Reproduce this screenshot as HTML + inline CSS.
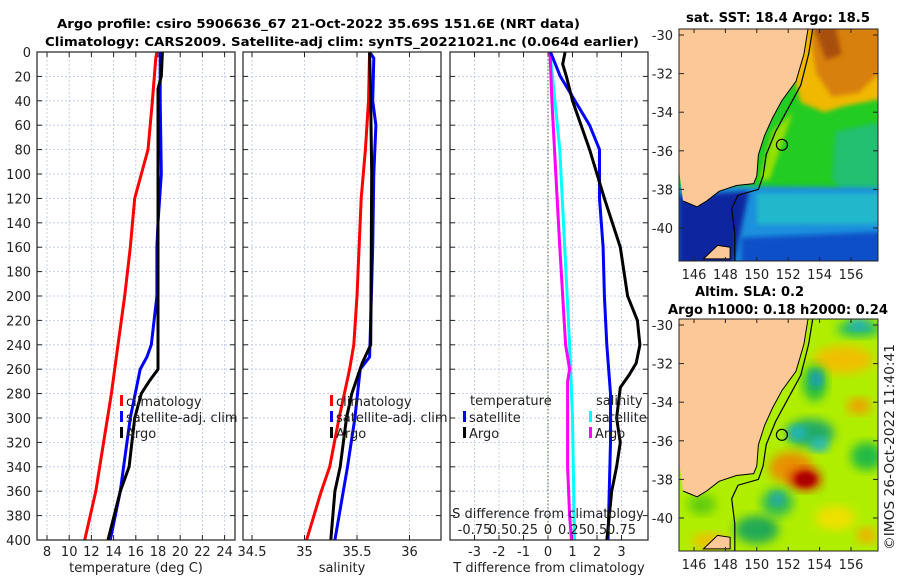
<!DOCTYPE html>
<html><head><meta charset="utf-8"><style>
body{margin:0;background:#fff;}
svg{display:block;font-family:"DejaVu Sans","Liberation Sans",sans-serif;}
.t{font-size:13px;fill:#222;}
.b{font-size:12px;font-weight:bold;fill:#000;}
</style></head><body>
<svg id="c" width="900" height="580" viewBox="0 0 900 580">
<defs>
<filter id="bl" x="-20%" y="-20%" width="140%" height="140%"><feGaussianBlur stdDeviation="5"/></filter>
<filter id="bl2" x="-20%" y="-20%" width="140%" height="140%"><feGaussianBlur stdDeviation="2.5"/></filter>
<clipPath id="m1"><rect x="679" y="29" width="199" height="232"/></clipPath>
<clipPath id="m2"><rect x="679" y="319" width="199" height="232"/></clipPath>
</defs>
<text class="b" x="57" y="28" textLength="523" lengthAdjust="spacingAndGlyphs">Argo profile: csiro 5906636_67 21-Oct-2022 35.69S 151.6E (NRT data)</text>
<text class="b" x="45" y="46" textLength="594" lengthAdjust="spacingAndGlyphs">Climatology: CARS2009. Satellite-adj clim: synTS_20221021.nc (0.064d earlier)</text>
<g id="plots"></g>
<g id="maps"></g>
<text class="t" x="894" y="550" textLength="206" lengthAdjust="spacingAndGlyphs" transform="rotate(-90 894 550)">©IMOS 26-Oct-2022 11:40:41</text>
</svg>
<script>
// ---- data (depth in m) ----
const depthTicks=[0,20,40,60,80,100,120,140,160,180,200,220,240,260,280,300,320,340,360,380,400];
const tempTicks=[8,10,12,14,16,18,20,22,24];
const salTicks=[34.5,35,35.5,36];
const tdTicks=[-3,-2,-1,0,1,2,3];
const sdTickLabels=["-0.75","0.5","0.25","0","0.25","0.5","0.75"];
const sdTickValues=[-0.75,-0.5,-0.25,0,0.25,0.5,0.75];

const tClimD=[0,5,40,80,120,160,200,240,280,320,360,400];
const tClimV=[17.9,17.8,17.5,17.1,15.9,15.5,15.0,14.4,13.8,13.1,12.4,11.4];
const tSatD=[0,40,100,140,160,200,240,250,260,300,340,360,400];
const tSatV=[18.2,18.2,18.3,18.0,17.9,17.9,17.4,17.0,16.4,15.5,14.9,14.6,13.7];
const tArgoD=[0,20,30,40,100,200,260,265,270,280,300,340,360,400];
const tArgoV=[18.4,18.3,18.0,18.0,18.0,18.0,18.0,17.6,17.2,16.5,15.9,15.4,14.6,13.5];

const sClimD=[0,40,80,120,160,200,240,260,280,300,340,360,400];
const sClimV=[35.62,35.61,35.58,35.54,35.52,35.50,35.47,35.43,35.38,35.33,35.24,35.16,35.02];
const sSatD=[0,5,40,60,100,160,220,250,260,300,340,380,400];
const sSatV=[35.62,35.66,35.65,35.68,35.66,35.65,35.63,35.62,35.53,35.48,35.41,35.33,35.29];
const sArgoD=[0,40,100,240,255,280,300,340,360,400];
const sArgoV=[35.62,35.63,35.64,35.63,35.55,35.45,35.40,35.34,35.29,35.25];

const dTSatD=[0,20,40,60,80,120,160,200,240,280,320,400];
const dTSatV=[0.1,0.5,1.1,1.7,2.1,2.1,2.25,2.3,2.4,2.55,2.55,2.45];
const dTArgoD=[0,10,20,40,80,120,160,200,220,240,255,265,275,300,320,340,360,380,400];
const dTArgoV=[0.7,0.6,0.75,1.0,1.7,2.3,2.95,3.25,3.65,3.75,3.6,3.3,2.95,2.8,2.95,2.8,2.6,2.5,2.4];
const dSSatD=[0,40,80,160,240,300,400];
const dSSatV=[0.02,0.07,0.12,0.17,0.22,0.25,0.27];
const dSArgoD=[0,40,100,160,240,260,270,300,340,380,400];
const dSArgoV=[0.02,0.04,0.08,0.12,0.18,0.22,0.2,0.2,0.2,0.22,0.24];

const NS="http://www.w3.org/2000/svg";
function mk(tag,attrs,parent,txt){const e=document.createElementNS(NS,tag);for(const k in attrs)e.setAttribute(k,attrs[k]);if(txt!==undefined)e.textContent=txt;parent.appendChild(e);return e;}
const Y0=52,Y1=540;
const yD=d=>Y0+(d/400)*(Y1-Y0);
const plots=document.getElementById('plots');

function panel(name,x0,x1,xf,ticks,labels,xlabel){
  const g=mk('g',{},plots);
  
  
  ticks.forEach(v=>{const x=xf(v);mk('line',{x1:x,x2:x,y1:Y0,y2:Y1,stroke:'#b8c4ee','stroke-width':0.8,'stroke-dasharray':'2,2'},g);});
  depthTicks.forEach(d=>{mk('line',{x1:x0,x2:x1,y1:yD(d),y2:yD(d),stroke:'#b8c4ee','stroke-width':0.8,'stroke-dasharray':'2,2'},g);
    mk('line',{x1:x0,x2:x0+5,y1:yD(d),y2:yD(d),stroke:'#222'},g);mk('line',{x1:x1-5,x2:x1,y1:yD(d),y2:yD(d),stroke:'#222'},g);});
  ticks.forEach((v,i)=>{const x=xf(v);mk('line',{x1:x,x2:x,y1:Y1-5,y2:Y1,stroke:'#222'},g);mk('line',{x1:x,x2:x,y1:Y0,y2:Y0+5,stroke:'#222'},g);
    const t=mk('text',{class:'t',x:x,y:556,'text-anchor':'middle'},g,labels[i]);
    
    });
  const xl=mk('text',{class:'t',x:(x0+x1)/2,y:572,'text-anchor':'middle'},g,xlabel);
  
  
  return g;
}
function box(g,x0,x1){mk('rect',{x:x0,y:Y0,width:x1-x0,height:Y1-Y0,fill:'none',stroke:'#222','stroke-width':1.2},g);}
function line(g,name,D,V,xf,color){
  const p=mk('polyline',{points:D.map((d,i)=>xf(V[i]).toFixed(1)+','+yD(d).toFixed(1)).join(' '),fill:'none',stroke:color,'stroke-width':3,'stroke-linejoin':'round'},g);
  
  
}
function legend(g,x,y,color,label,name){
  mk('rect',{x:x,y:y-11,width:3,height:11,fill:color},g);
  const t=mk('text',{class:'t',x:x+6,y:y},g,label);
  
  
}
const xT=t=>47+(t-8)*11.1;
const g1=panel('temperature-panel',37,235,xT,tempTicks,tempTicks.map(String),'temperature (deg C)');
depthTicks.forEach(d=>{const t=mk('text',{class:'t',x:31,y:yD(d)+5,'text-anchor':'end'},g1,String(d));
  
  });
line(g1,'temp-climatology-line',tClimD,tClimV,xT,'#ff0000');
line(g1,'temp-satellite-line',tSatD,tSatV,xT,'#0000ff');
line(g1,'temp-argo-line',tArgoD,tArgoV,xT,'#000000');
legend(g1,120,406,'#ff0000','climatology','legend-climatology');
legend(g1,120,422,'#0000ff','satellite-adj. clim','legend-satellite');
legend(g1,120,438,'#000000','Argo','legend-argo');
box(g1,37,235);
const xS=s=>252+(s-34.5)*105;
const g2=panel('salinity-panel',243,441,xS,salTicks,salTicks.map(String),'salinity');
line(g2,'sal-climatology-line',sClimD,sClimV,xS,'#ff0000');
line(g2,'sal-satellite-line',sSatD,sSatV,xS,'#0000ff');
line(g2,'sal-argo-line',sArgoD,sArgoV,xS,'#000000');
legend(g2,330,406,'#ff0000','climatology','legend-climatology-2');
legend(g2,330,422,'#0000ff','satellite-adj. clim','legend-satellite-2');
legend(g2,330,438,'#000000','Argo','legend-argo-2');
box(g2,243,441);
const xTD=v=>548+v*24.5;
const xSD=v=>548+v*98;
const g3=panel('difference-panel',450,648,xTD,tdTicks,tdTicks.map(String),'T difference from climatology');
mk('line',{x1:xTD(0),x2:xTD(0),y1:Y0,y2:Y1,stroke:'#556633','stroke-width':1,'stroke-dasharray':'1.5,2'},g3);
line(g3,'s-diff-satellite-line',dSSatD,dSSatV,xSD,'#00ffff');
line(g3,'s-diff-argo-line',dSArgoD,dSArgoV,xSD,'#ff00ff');
line(g3,'t-diff-satellite-line',dTSatD,dTSatV,xTD,'#0000ff');
line(g3,'t-diff-argo-line',dTArgoD,dTArgoV,xTD,'#000000');
mk('text',{class:'t',x:470,y:405},g3,'temperature');
mk('text',{class:'t',x:596,y:405},g3,'salinity');
legend(g3,463,422,'#0000ff','satellite','legend-t-satellite');
legend(g3,463,438,'#000000','Argo','legend-t-argo');
legend(g3,589,422,'#00ffff','satellite','legend-s-satellite');
legend(g3,589,438,'#ff00ff','Argo','legend-s-argo');
const st=mk('text',{class:'t',x:548,y:518,'text-anchor':'middle'},g3,'S difference from climatology');


sdTickValues.forEach((v,i)=>{const t=mk('text',{class:'t',x:xSD(v),y:534,'text-anchor':'middle'},g3,sdTickLabels[i]);
  
  });
box(g3,450,648);

// ---- maps ----
const maps=document.getElementById('maps');
const lonX=l=>694+(l-146)*15.7;
function latY(top){return a=>top+6+(-30-a)*19.3;}
const coast=[[153.3,-29.5],[153.0,-31],[152.5,-32.4],[151.6,-33.4],[151.0,-34.3],[150.5,-35.2],[150.1,-36.2],[150.0,-37.3],[149.8,-37.7],[148.7,-37.8],[147.6,-38.1],[146.8,-38.6],[146.2,-38.9],[145.3,-38.6]];
const shelf=[[153.6,-29.5],[153.3,-31],[152.8,-32.6],[152.0,-33.8],[151.2,-35.0],[150.6,-36.2],[150.4,-37.3],[150.1,-38.0],[148.8,-38.3],[148.4,-39.0],[148.6,-40.3],[148.6,-41.8]];
function title(g,x,y,w,txt,name){
  const t=mk('text',{class:'b',x:x,y:y,textLength:w,lengthAdjust:'spacingAndGlyphs','font-size':'13px',style:'font-size:13px'},g,txt);
  
  
}
function map(name,top,clip,fillFn){
  const g=mk('g',{},maps);
  
  
  const y=latY(top);
  const cg=mk('g',{'clip-path':'url(#'+clip+')'},g);
  fillFn(cg,y);
  const pts=coast.map(p=>lonX(p[0]).toFixed(1)+','+y(p[1]).toFixed(1));
  mk('polygon',{points:pts.join(' ')+' 660,'+(top-10),fill:'#fdc897',stroke:'none'},cg);
  mk('polyline',{points:pts.join(' '),fill:'none',stroke:'#000','stroke-width':1},cg);
  mk('polygon',{points:[[146.6,-41.6],[147.5,-40.9],[148.3,-41.0],[148.3,-41.6]].map(p=>lonX(p[0])+','+y(p[1])).join(' '),fill:'#fdc897',stroke:'#000'},cg);
  mk('polyline',{points:shelf.map(p=>lonX(p[0]).toFixed(1)+','+y(p[1]).toFixed(1)).join(' '),fill:'none',stroke:'#000','stroke-width':1.2},cg);
  const c=mk('circle',{cx:lonX(151.6),cy:y(-35.69),r:5.5,fill:'none',stroke:'#000','stroke-width':1.2},g);
  
  
  mk('rect',{x:679,y:top,width:199,height:232,fill:'none',stroke:'#222'},g);
  [-30,-32,-34,-36,-38,-40].forEach(a=>{const yy=y(a);mk('line',{x1:679,x2:684,y1:yy,y2:yy,stroke:'#222'},g);mk('line',{x1:873,x2:878,y1:yy,y2:yy,stroke:'#222'},g);
    const t=mk('text',{class:'t',x:673,y:yy+5,'text-anchor':'end'},g,String(a));
    
    });
  [146,148,150,152,154,156].forEach(l=>{const xx=lonX(l);mk('line',{x1:xx,x2:xx,y1:top,y2:top+4,stroke:'#222'},g);mk('line',{x1:xx,x2:xx,y1:top+228,y2:top+232,stroke:'#222'},g);
    const t=mk('text',{class:'t',x:xx,y:top+250,'text-anchor':'middle'},g,String(l));
    
    });
}
map('sst-map',29,'m1',(g,y)=>{
  mk('rect',{x:679,y:29,width:199,height:232,fill:'#22cc22'},g);
  const P=(arr,fill,f)=>mk('polygon',{points:arr.map(p=>lonX(p[0])+','+y(p[1])).join(' '),fill:fill,filter:f||'url(#bl2)'},g);
  P([[152.5,-29.5],[158,-29.5],[158,-33.3],[155.5,-33.7],[154.3,-34.0],[152.8,-33.5],[152.3,-32]],'#f0b800');
  P([[153.5,-29.5],[158,-29.5],[158,-31.8],[156.5,-33],[154.8,-33.2],[153.8,-32],[153.5,-30.5]],'#d88010');
  P([[153.6,-29.5],[155,-29.5],[155.4,-31],[154.4,-31.3]],'#a85010');
  P([[151,-35],[152.3,-34],[150.8,-37.5],[150.2,-37.5]],'#99e000');
  P([[155,-35],[158,-34.5],[158,-38],[156,-38.5],[154.8,-37.5]],'#20c070');
  P([[145,-37.8],[158,-37.9],[158,-42],[145,-42]],'#1e90dd');
  P([[150,-38.2],[158,-38.2],[158,-39.8],[150,-39.8]],'#22b8cc');
  P([[145,-38.3],[149.5,-38.1],[148.5,-42],[145,-42]],'#0a28a0');
  P([[149,-40.5],[158,-40.2],[158,-42],[149,-42]],'#1050c8');
});
map('sla-map',319,'m2',(g,y)=>{
  mk('rect',{x:679,y:319,width:199,height:232,fill:'#b0ee00'},g);
  const E=(lo,la,rx,ry,fill,f)=>mk('ellipse',{cx:lonX(lo),cy:y(la),rx:rx,ry:ry,fill:fill,filter:f||'url(#bl)'},g);
  E(155.5,-31.8,30,14,'#f0c000');E(153.7,-33.0,12,18,'#22bb44');E(153.8,-32.8,6,8,'#1a90e0');
  E(156.5,-30.2,22,8,'#22bb66');E(156.5,-30,10,5,'#22aadd');
  E(153.4,-35.6,24,14,'#22aa66');E(152.6,-35.6,9,7,'#22b8cc');E(154,-36.2,9,7,'#22b8cc');
  E(156.5,-34.2,12,8,'#f0a000');E(157,-36.8,16,14,'#22bb44');
  E(152.2,-37.4,22,16,'#e89000');E(153.1,-38.0,16,11,'#cc2200');E(153.1,-38.0,10,7,'#aa0000','url(#bl2)');
  E(151.3,-39.2,16,14,'#30bb55');E(151.3,-39.0,6,6,'#20a0d0');
  E(150,-40.6,22,14,'#22aa55');E(155,-40,20,12,'#f0e000');E(147,-41.2,18,8,'#f0c000');E(157,-40.9,10,8,'#f0b000');
  E(146.5,-39.3,14,10,'#60cc10');
});
title(maps,686,22,184,'sat. SST: 18.4 Argo: 18.5','sst-map-title');
title(maps,695,296,109,'Altim. SLA: 0.2','sla-map-title');
title(maps,668,314,220,'Argo h1000: 0.18 h2000: 0.24','sla-map-subtitle');
</script>
</body></html>
